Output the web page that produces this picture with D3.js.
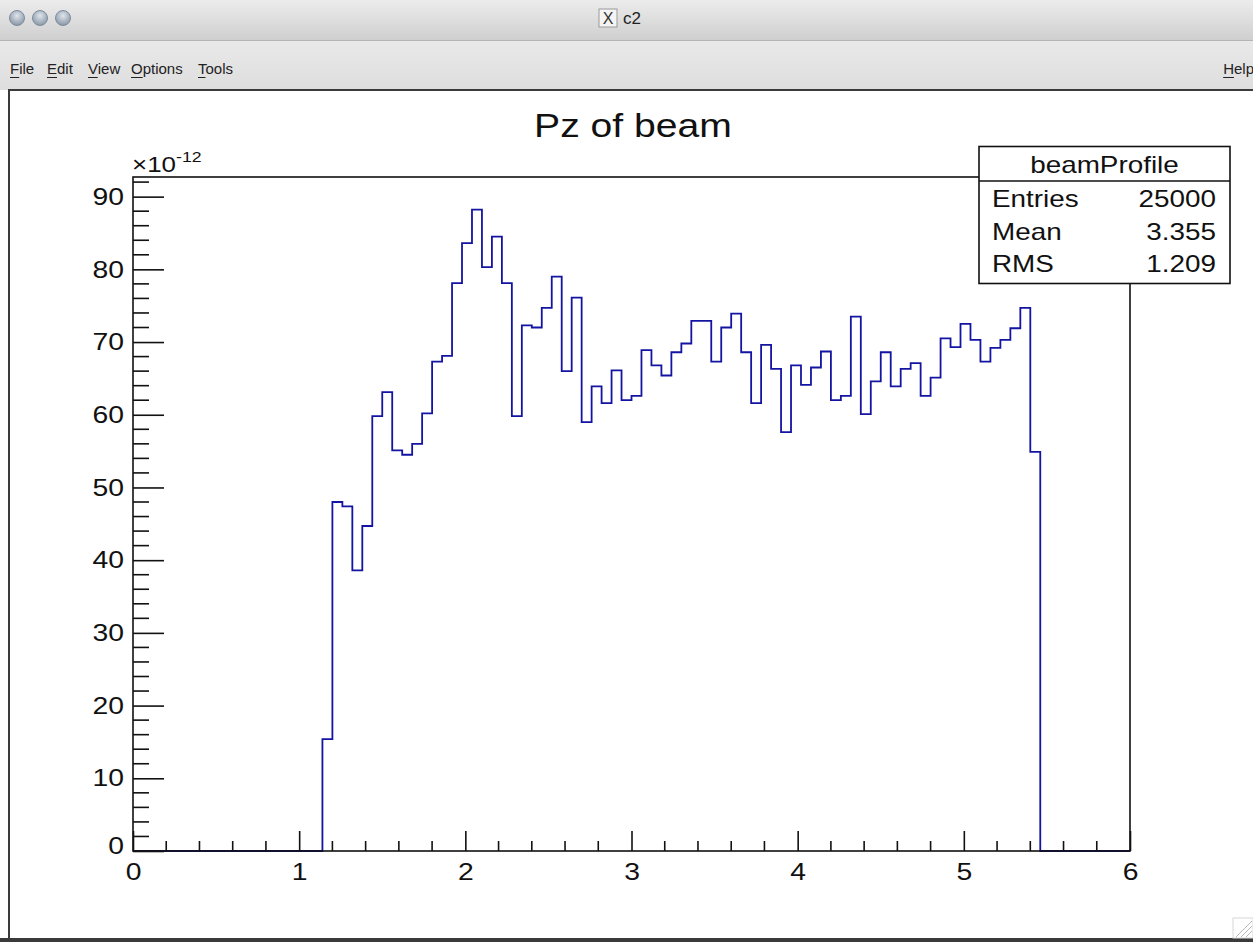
<!DOCTYPE html>
<html>
<head>
<meta charset="utf-8">
<script src="https://cdn.jsdelivr.net/npm/d3@7"></script>
<style>
  body { margin: 0; background: #fff; }
  svg { display: block; font-family: "Liberation Sans", Arial, sans-serif; }
</style>
</head>
<body>
<svg id="c2" width="1253" height="942"></svg>
<script>
// Pz of beam: 100 bins from 0 to 6, values in units of 1e-12
const pz = [
  0, 0, 0, 0, 0, 0, 0, 0, 0, 0,
  0, 0, 0, 0, 0, 0, 0, 0, 0, 15.4,
  48.0, 47.4, 38.6, 44.7, 59.8, 63.1, 55.1, 54.5, 56.0, 60.2,
  67.3, 68.1, 78.1, 83.6, 88.2, 80.3, 84.5, 78.1, 59.8, 72.3,
  72.0, 74.7, 79.0, 66.0, 76.1, 59.0, 63.9, 61.6, 66.1, 62.0,
  62.6, 68.9, 66.8, 65.4, 68.6, 69.8, 72.9, 72.9, 67.3, 72.0,
  73.9, 68.6, 61.6, 69.6, 66.3, 57.6, 66.8, 64.1, 66.5, 68.7,
  62.0, 62.6, 73.5, 60.1, 64.6, 68.6, 63.9, 66.3, 67.1, 62.6,
  65.1, 70.5, 69.3, 72.5, 70.3, 67.3, 69.2, 70.3, 71.9, 74.7,
  54.9, 0, 0, 0, 0, 0, 0, 0, 0, 0
];
const xRange = [0, 6];
const yRange = [0, 92.7];
const xTicks = [0, 1, 2, 3, 4, 5, 6];
const yTicks = [0, 10, 20, 30, 40, 50, 60, 70, 80, 90];
const statsLabels = ['Entries', 'Mean', 'RMS'];
const statsValues = ['25000', '3.355', '1.209'];
const menuItems = ['File', 'Edit', 'View', 'Options', 'Tools'];

const W = 1253, H = 942;
const frame = { left: 133, right: 1130, top: 177, bottom: 851 };
const ink = '#111';

const svg = d3.select('#c2');

// the X11 text in the capture is a bit wider than Liberation Sans
function widen(sel, k) {
  sel.each(function () {
    const len = this.getComputedTextLength();
    d3.select(this).attr('textLength', len * k).attr('lengthAdjust', 'spacingAndGlyphs');
  });
}

// ---- window chrome ----
const defs = svg.append('defs');
const tg = defs.append('linearGradient').attr('id', 'titleGrad').attr('x1', 0).attr('y1', 0).attr('x2', 0).attr('y2', 1);
tg.append('stop').attr('offset', '0%').attr('stop-color', '#ececec');
tg.append('stop').attr('offset', '100%').attr('stop-color', '#cfcfcf');
const mg = defs.append('linearGradient').attr('id', 'menuGrad').attr('x1', 0).attr('y1', 0).attr('x2', 0).attr('y2', 1);
mg.append('stop').attr('offset', '0%').attr('stop-color', '#e9e9e9');
mg.append('stop').attr('offset', '100%').attr('stop-color', '#dedede');
const bg = defs.append('radialGradient').attr('id', 'btnGrad').attr('cx', '50%').attr('cy', '35%').attr('r', '60%');
bg.append('stop').attr('offset', '0%').attr('stop-color', '#dfe5ec');
bg.append('stop').attr('offset', '100%').attr('stop-color', '#8e9cab');

svg.append('rect').attr('x', 0).attr('y', 0).attr('width', W).attr('height', 40).attr('fill', 'url(#titleGrad)');
svg.append('rect').attr('x', 0).attr('y', 40).attr('width', W).attr('height', 50).attr('fill', 'url(#menuGrad)');
svg.append('line').attr('x1', 0).attr('x2', W).attr('y1', 40.5).attr('y2', 40.5).attr('stroke', '#b5b5b5');

[17, 40, 63].forEach(cx => {
  svg.append('circle').attr('cx', cx).attr('cy', 18).attr('r', 7.5)
    .attr('fill', 'url(#btnGrad)').attr('stroke', '#7d8c9c').attr('stroke-width', 1);
});

svg.append('rect').attr('x', 599).attr('y', 9).attr('width', 18).attr('height', 18)
  .attr('fill', '#f4f4f4').attr('stroke', '#9a9a9a');
svg.append('text').attr('x', 608).attr('y', 24).attr('text-anchor', 'middle')
  .attr('font-size', 16).attr('fill', '#333').text('X');
svg.append('text').attr('x', 623).attr('y', 24).attr('font-size', 17).attr('fill', '#222').text('c2');

const menuX = [10, 47, 88, 131, 198];
menuItems.forEach((m, i) => {
  const t = svg.append('text').attr('x', menuX[i]).attr('y', 74).attr('font-size', 15).attr('fill', '#222').text(m);
  const w0 = t.node().getSubStringLength(0, 1);
  svg.append('line').attr('x1', menuX[i]).attr('x2', menuX[i] + w0).attr('y1', 77.5).attr('y2', 77.5)
    .attr('stroke', '#222');
});
const help = svg.append('text').attr('x', W + 1).attr('y', 74).attr('text-anchor', 'end')
  .attr('font-size', 15).attr('fill', '#222').text('Help');
const hb = help.node().getBBox();
svg.append('line').attr('x1', hb.x).attr('x2', hb.x + help.node().getSubStringLength(0, 1))
  .attr('y1', 77.5).attr('y2', 77.5).attr('stroke', '#222');

// canvas border
svg.append('rect').attr('x', 8).attr('y', 89).attr('width', W - 8).attr('height', 2).attr('fill', '#3a3a3a');
svg.append('rect').attr('x', 8).attr('y', 89).attr('width', 2).attr('height', H - 89).attr('fill', '#3a3a3a');
svg.append('rect').attr('x', 0).attr('y', 938).attr('width', W).attr('height', 4).attr('fill', '#3a3a3a');

// resize grip
svg.append('rect').attr('x', 1233).attr('y', 918).attr('width', 20).attr('height', 20)
  .attr('fill', 'none').attr('stroke', '#d8d8d8');
const grip = svg.append('g').attr('stroke', '#b8b8b8').attr('stroke-width', 1);
[6, 11, 16].forEach(d => grip.append('line').attr('x1', 1252 - d).attr('y1', 937).attr('x2', 1252).attr('y2', 937 - d));

// ---- scales ----
const x = d3.scaleLinear().domain(xRange).range([frame.left, frame.right]);
const y = d3.scaleLinear().domain(yRange).range([frame.bottom, frame.top]);

// ---- histogram outline ----
const nb = pz.length;
const bw = (xRange[1] - xRange[0]) / nb;
const pts = pz.map((v, i) => [xRange[0] + i * bw, v]);
pts.push([xRange[1], pz[nb - 1]]);

svg.append('path')
  .datum(pts)
  .attr('d', d3.line().x(d => x(d[0])).y(d => y(d[1])).curve(d3.curveStepAfter))
  .attr('fill', 'none')
  .attr('stroke', '#1414a2')
  .attr('stroke-width', 1.8);

// ---- frame ----
svg.append('rect')
  .attr('x', frame.left).attr('y', frame.top)
  .attr('width', frame.right - frame.left).attr('height', frame.bottom - frame.top)
  .attr('fill', 'none').attr('stroke', ink).attr('stroke-width', 1.6);

// ---- axes (ROOT style: ticks pointing inside) ----
const yMinor = d3.range(0, yRange[1], 2).filter(v => v % 10 !== 0);
const xMinor = d3.range(0, 6.0001, 0.2).filter(v => Math.abs(v - Math.round(v)) > 1e-6);

const yAxis = svg.append('g')
  .attr('transform', `translate(${frame.left},0)`)
  .call(d3.axisLeft(y).tickValues(yTicks).tickSizeInner(-31).tickSizeOuter(0).tickPadding(9).tickFormat(d3.format('d')));
yAxis.select('.domain').remove();
yAxis.selectAll('.tick line').attr('stroke', ink).attr('stroke-width', 1.6);
yAxis.selectAll('.tick text').attr('font-size', 24).attr('fill', ink).attr('font-family', '"Liberation Sans", Arial, sans-serif')
  .call(widen, 1.18);
yAxis.selectAll('.tick').filter(d => d === 0).select('text').attr('dy', '0.12em');

svg.append('g').selectAll('line').data(yMinor).join('line')
  .attr('x1', frame.left).attr('x2', frame.left + 16)
  .attr('y1', d => y(d)).attr('y2', d => y(d))
  .attr('stroke', ink).attr('stroke-width', 1.6);

const xAxis = svg.append('g')
  .attr('transform', `translate(0,${frame.bottom})`)
  .call(d3.axisBottom(x).tickValues(xTicks).tickSizeInner(-20).tickSizeOuter(0).tickPadding(12).tickFormat(d3.format('d')));
xAxis.select('.domain').remove();
xAxis.selectAll('.tick line').attr('stroke', ink).attr('stroke-width', 1.6);
xAxis.selectAll('.tick text').attr('font-size', 24).attr('fill', ink).attr('font-family', '"Liberation Sans", Arial, sans-serif')
  .call(widen, 1.18);

svg.append('g').selectAll('line').data(xMinor).join('line')
  .attr('x1', d => x(d)).attr('x2', d => x(d))
  .attr('y1', frame.bottom).attr('y2', frame.bottom - 10)
  .attr('stroke', ink).attr('stroke-width', 1.6);

// exponent label
const expo = svg.append('text').attr('x', frame.left - 1).attr('y', 172).attr('font-size', 22).attr('fill', ink);
expo.append('tspan').text('\u00d710');
expo.append('tspan').attr('dy', -10).attr('font-size', 15).text('-12');
expo.call(widen, 1.18);

// ---- title ----
svg.append('text').attr('x', 633).attr('y', 137).attr('text-anchor', 'middle')
  .attr('font-size', 34).attr('fill', ink).text('Pz of beam')
  .call(widen, 1.15);

// ---- stats box ----
const sb = { x: 979, y: 146.5, w: 251, h: 137, head: 34.5 };
const stats = svg.append('g');
stats.append('rect').attr('x', sb.x).attr('y', sb.y).attr('width', sb.w).attr('height', sb.h)
  .attr('fill', '#fff').attr('stroke', ink).attr('stroke-width', 1.6);
stats.append('line').attr('x1', sb.x).attr('x2', sb.x + sb.w).attr('y1', sb.y + sb.head).attr('y2', sb.y + sb.head)
  .attr('stroke', ink).attr('stroke-width', 1.6);
stats.append('text').attr('x', sb.x + sb.w / 2).attr('y', 173).attr('text-anchor', 'middle')
  .attr('font-size', 24).attr('fill', ink).text('beamProfile')
  .call(widen, 1.16);
const rowY = d3.scalePoint().domain(statsLabels).range([207, 272]);
statsLabels.forEach((lab, i) => {
  stats.append('text').attr('x', sb.x + 13).attr('y', rowY(lab)).attr('font-size', 24).attr('fill', ink).text(lab)
    .call(widen, 1.16);
  stats.append('text').attr('x', sb.x + sb.w - 14).attr('y', rowY(lab)).attr('text-anchor', 'end')
    .attr('font-size', 24).attr('fill', ink).text(statsValues[i])
    .call(widen, 1.16);
});
</script>
</body>
</html>
